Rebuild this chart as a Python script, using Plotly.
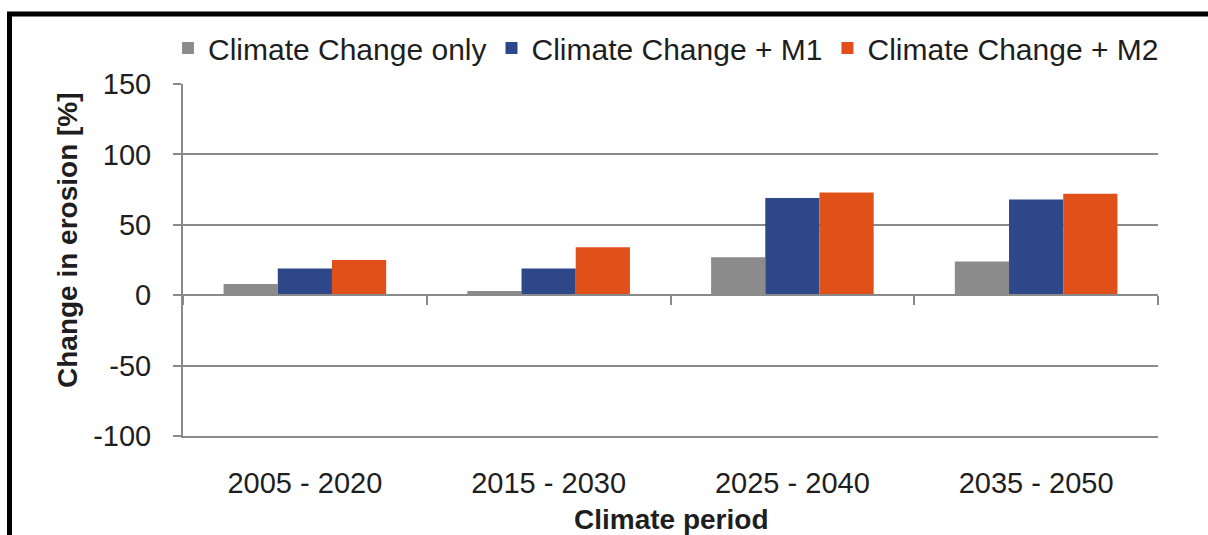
import plotly.graph_objects as go

periods = ["2005 - 2020", "2015 - 2030", "2025 - 2040", "2035 - 2050"]
cc_only = [8, 3, 27, 24]
cc_m1 = [19, 19, 69, 68]
cc_m2 = [25, 34, 73, 72]
series_names = ["Climate Change only", "Climate Change + M1", "Climate Change + M2"]
colors = ["#8C8C8C", "#2D4789", "#E2501A"]
y_ticks = [-100, -50, 0, 50, 100, 150]
y_tick_text = ["-100", "-50", "0", "50", "100", "150"]

FONT = "Liberation Sans, Arial, sans-serif"
TXT = "#1e1e1e"
AX = "#8a8a8a"

fig = go.Figure()
for name, vals, col in zip(series_names, [cc_only, cc_m1, cc_m2], colors):
    fig.add_trace(go.Bar(x=periods, y=vals, name=name, marker=dict(color=col, line=dict(width=0))))

# helper trace for the category labels along the bottom axis
fig.add_trace(go.Scatter(x=periods, y=[None] * len(periods), xaxis="x2", yaxis="y",
                         showlegend=False, hoverinfo="skip", mode="markers"))

W, H = 1208, 535
L, R, T, B = 183, 50, 84, 99
pw, ph = W - L - R, H - T - B
ymin, ymax = -100, 150

def px_x(px):
    return (px - L) / pw

def px_y(py):
    return 1 - (py - T) / ph

fig.update_layout(
    width=W, height=H,
    margin=dict(l=L, r=R, t=T, b=B),
    paper_bgcolor="white", plot_bgcolor="white",
    font=dict(family=FONT, color=TXT, size=29),
    barmode="group", bargap=0.333, bargroupgap=0,
    showlegend=True,
    legend=dict(orientation="h", x=px_x(168), xanchor="left", y=px_y(48), yanchor="middle",
                font=dict(size=30, family=FONT, color=TXT), traceorder="normal",
                itemwidth=30, tracegroupgap=0, bgcolor="rgba(0,0,0,0)"),
    xaxis=dict(type="category", categoryorder="array", categoryarray=periods,
               range=[-0.5, len(periods) - 0.5],
               anchor="free", position=(0 - ymin) / (ymax - ymin),
               showline=True, linecolor=AX, linewidth=2,
               ticks="outside", tickson="boundaries", ticklen=9, tickwidth=2, tickcolor=AX,
               showticklabels=False, showgrid=False, zeroline=False),
    xaxis2=dict(type="category", categoryorder="array", categoryarray=periods,
                range=[-0.5, len(periods) - 0.5], overlaying="x", anchor="y", side="bottom",
                showline=True, linecolor=AX, linewidth=2, ticks="", showgrid=False, zeroline=False,
                tickfont=dict(size=29, family=FONT, color=TXT), ticklabelstandoff=20),
    yaxis=dict(range=[ymin, ymax], tickvals=y_ticks, ticktext=y_tick_text,
               showgrid=True, gridcolor=AX, gridwidth=2,
               zeroline=False, showline=True, linecolor=AX, linewidth=2,
               ticks="outside", ticklen=8, tickwidth=2, tickcolor=AX,
               tickfont=dict(size=29, family=FONT, color=TXT), ticklabelstandoff=16),
    annotations=[
        dict(text="<b>Change in erosion [%]</b>", textangle=-90, xref="paper", yref="paper",
             x=px_x(68), y=px_y(240), xanchor="center", yanchor="middle", showarrow=False,
             font=dict(size=28, family=FONT, color=TXT)),
        dict(text="<b>Climate period</b>", xref="paper", yref="paper",
             x=0.5, y=px_y(519), xanchor="center", yanchor="middle", showarrow=False,
             font=dict(size=28, family=FONT, color=TXT)),
    ],
    shapes=[
        dict(type="line", xref="paper", yref="paper", x0=px_x(9.5), x1=px_x(9.5),
             y0=px_y(12), y1=px_y(560), line=dict(color="black", width=5)),
        dict(type="line", xref="paper", yref="paper", x0=px_x(7), x1=px_x(1230),
             y0=px_y(14), y1=px_y(14), line=dict(color="black", width=5)),
    ],
)

fig.write_html("out.html", config={"displayModeBar": False},
               post_script="document.body.style.margin='0';document.body.style.overflow='hidden';")
